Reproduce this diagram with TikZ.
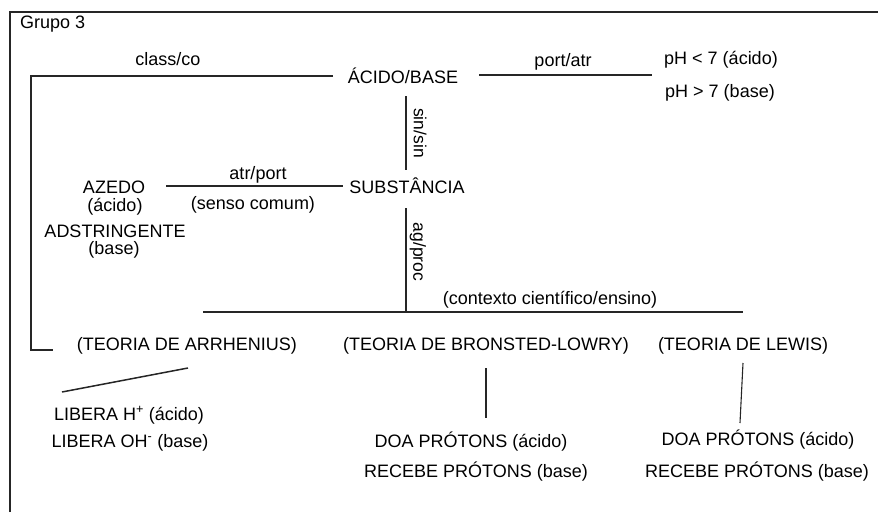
\documentclass[tikz,border=0pt]{standalone}
\usepackage{fontspec}
\setmainfont{Liberation Sans}
\begin{document}
\begin{tikzpicture}[x=1pt,y=-1pt,
  txt/.style={inner sep=0pt, anchor=base, font=\fontsize{18}{21}\selectfont},
  rot/.style={inner sep=0pt, anchor=center, rotate=-90, font=\fontsize{17.5}{20}\selectfont},
  ln/.style={line width=1.1pt, black!85},
  frame/.style={line width=1.4pt, black!85}]
\useasboundingbox (0,0) rectangle (878,512);
% frame
\coordinate (fbl) at (10,512);
\coordinate (ftl) at (10,12);
\coordinate (ftr) at (878,12);
\draw[frame] (fbl) -- (ftl) -- (ftr);
\node[txt, anchor=base west] (grupo) at (20,28) {Grupo 3};
% top row
\node[txt] (acidobase) at (403,83) {ÁCIDO/BASE};
\node[txt] (classco) at (168,65) {class/co};
\node[txt] (portatr) at (563,66) {port/atr};
\node[txt] (ph1) at (721,64) {pH < 7 (ácido)};
\node[txt] (ph2) at (720,97) {pH > 7 (base)};
% middle
\node[txt] (subst) at (407,193) {SUBSTÂNCIA};
\node[txt] (atrport) at (258,179) {atr/port};
\node[txt] (senso) at (253,209) {(senso comum)};
\node[txt] (azedo) at (114,193) {AZEDO};
\node[txt] (azac) at (115,211) {(ácido)};
\node[txt] (adstr) at (115,237) {ADSTRINGENTE};
\node[txt] (adba) at (114,254) {(base)};
\node[rot] (sinsin) at (420,133) {sin/sin};
\node[rot] (agproc) at (418,252) {ag/proc};
\node[txt] (contexto) at (550,304) {(contexto científico/ensino)};
% theories
\node[txt] (arrh) at (187,350) {(TEORIA DE ARRHENIUS)};
\node[txt] (bron) at (486,350) {(TEORIA DE BRONSTED-LOWRY)};
\node[txt] (lewis) at (743,350) {(TEORIA DE LEWIS)};
\node[txt] (libh) at (129,420) {LIBERA H\textsuperscript{+} (ácido)};
\node[txt] (liboh) at (130,447) {LIBERA OH\textsuperscript{-} (base)};
\node[txt] (doa1) at (471,447) {DOA PRÓTONS (ácido)};
\node[txt] (rec1) at (476,477) {RECEBE PRÓTONS (base)};
\node[txt] (doa2) at (758,445) {DOA PRÓTONS (ácido)};
\node[txt] (rec2) at (757,477) {RECEBE PRÓTONS (base)};
% connector end points
\coordinate (c1a) at (333,76);
\coordinate (c1b) at (31,76);
\coordinate (c1c) at (31,350);
\coordinate (c1d) at (53,350);
\coordinate (c2a) at (479,75);
\coordinate (c2b) at (652,75);
\coordinate (c3a) at (406,96);
\coordinate (c3b) at (406,170);
\coordinate (c4a) at (166,186);
\coordinate (c4b) at (343,186);
\coordinate (c5a) at (406,208);
\coordinate (c5b) at (406,312);
\coordinate (c6a) at (203,312);
\coordinate (c6b) at (743,312);
\coordinate (c7a) at (188,368);
\coordinate (c7b) at (62,392);
\coordinate (c8a) at (486,368);
\coordinate (c8b) at (486,418);
\coordinate (c9a) at (743,363);
\coordinate (c9b) at (740,423);
% connectors
\draw[ln] (c1a) -- (c1b) -- (c1c) -- (c1d);
\draw[ln] (c2a) -- (c2b);
\draw[ln] (c3a) -- (c3b);
\draw[ln] (c4a) -- (c4b);
\draw[ln] (c5a) -- (c5b);
\draw[ln] (c6a) -- (c6b);
\draw[ln, line width=1.5pt] (c7a) -- (c7b);
\draw[ln] (c8a) -- (c8b);
\draw[ln] (c9a) -- (c9b);
\end{tikzpicture}
\end{document}
